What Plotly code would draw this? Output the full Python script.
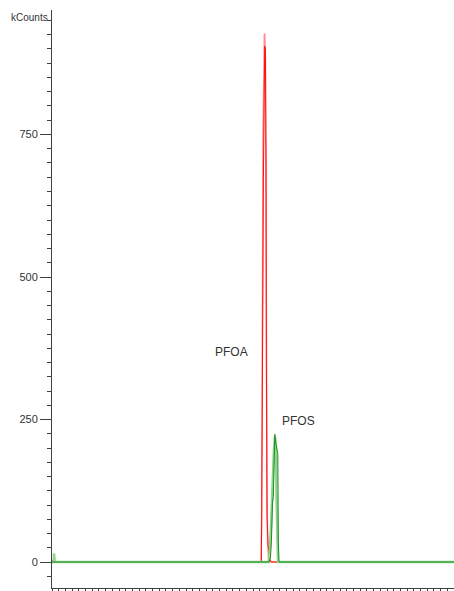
import plotly.graph_objects as go

# ---- data (time in minutes, intensity in kCounts) ----
red_t = [0.0, 0.03, 0.06, 0.09, 6.25, 6.27, 6.28, 6.31, 6.33, 6.35, 6.37, 6.39, 6.40, 6.41, 6.42, 6.45, 6.48, 6.51, 6.55, 12.0]
red_v = [0, 4, 3, 0, 0, 120, 310, 670, 890, 905, 900, 700, 350, 180, 80, 30, 12, 4, 0, 0]

pink_t = [0.0, 6.24, 6.26, 6.27, 6.30, 6.34, 6.35, 6.37, 6.39, 6.40, 6.42, 6.44, 6.47, 12.0]
pink_v = [0, 0, 80, 300, 750, 926, 926, 880, 600, 250, 90, 30, 0, 0]

lgreen_t = [0.0, 0.05, 0.06, 0.08, 6.463, 6.493, 6.537, 6.567, 6.597, 6.627, 6.657, 6.687, 6.701, 6.716, 6.746, 12.0]
lgreen_v = [0, 0, 15, 0, 0, 10, 60, 110, 130, 200, 220, 200, 120, 40, 0, 0]

dgreen_t = [0.0, 6.478, 6.522, 6.552, 6.582, 6.606, 6.627, 6.651, 6.672, 6.701, 6.740, 6.755, 6.776, 12.0]
dgreen_v = [0, 0, 8, 40, 105, 115, 165, 224, 212, 200, 190, 40, 0, 0]

labels = ["PFOA", "PFOS"]
label_t = [5.37, 7.37]
label_v = [368, 247]

y_ticks = [0, 250, 500, 750]

fig = go.Figure()
fig.add_trace(go.Scatter(x=pink_t, y=pink_v, mode="lines",
                         line=dict(color="#ff8c8c", width=1.5)))
fig.add_trace(go.Scatter(x=red_t, y=red_v, mode="lines",
                         line=dict(color="#ff1010", width=1)))
fig.add_trace(go.Scatter(x=lgreen_t, y=lgreen_v, mode="lines",
                         line=dict(color="#8fd48f", width=2.5)))
fig.add_trace(go.Scatter(x=dgreen_t, y=dgreen_v, mode="lines",
                         line=dict(color="#1e8c1e", width=1)))

for txt, tx, ty in zip(labels, label_t, label_v):
    fig.add_annotation(x=tx, y=ty, text=txt, showarrow=False,
                       font=dict(family="Liberation Sans, Arial", size=12, color="#333333"))

fig.add_annotation(xref="paper", x=0, xanchor="right", xshift=-2,
                   y=955, yref="y", text="kCounts", showarrow=False,
                   font=dict(family="Liberation Sans, Arial", size=10, color="#333333"))

fig.update_layout(
    width=454, height=591,
    margin=dict(l=52, r=0, t=10, b=3),
    paper_bgcolor="white", plot_bgcolor="white",
    showlegend=False,
    font=dict(family="Liberation Sans, Arial", size=11, color="#333333"),
    xaxis=dict(range=[0, 12], showgrid=False, zeroline=False,
               showline=True, linecolor="#404040", linewidth=1,
               ticks="outside", ticklen=4, tickcolor="#404040",
               dtick=0.2, tick0=0, showticklabels=False),
    yaxis=dict(range=[-45.6, 968.4], showgrid=False, zeroline=False,
               showline=True, linecolor="#404040", linewidth=1,
               ticks="outside", ticklen=11, tickcolor="#404040",
               tickvals=y_ticks, ticktext=[str(v) for v in y_ticks],
               minor=dict(ticks="outside", ticklen=4, dtick=25, tick0=0,
                          tickcolor="#404040", showgrid=False)),
)

fig.write_html("out.html", config={"displayModeBar": False},
               post_script="document.body.style.margin='0';document.body.style.overflow='hidden';")
